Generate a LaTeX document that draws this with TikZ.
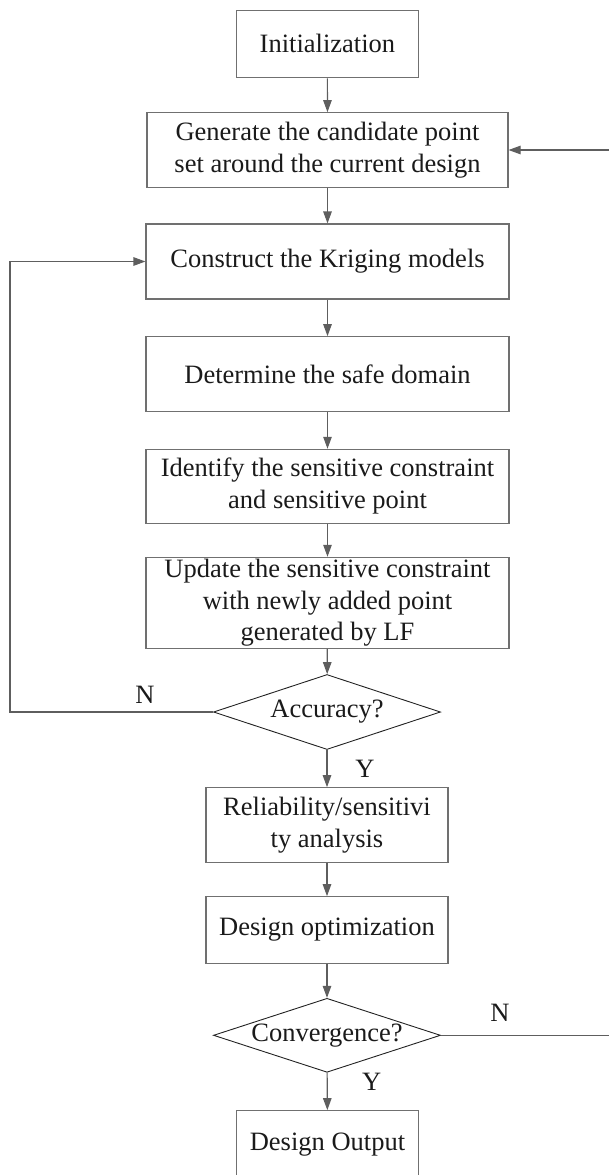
\documentclass[tikz,border=0pt]{standalone}
\usepackage{fontspec}
\setmainfont{Liberation Serif}
\usetikzlibrary{shapes.geometric,arrows.meta}
\definecolor{boxline}{HTML}{707070}
\definecolor{arrline}{HTML}{5E5E5E}
\definecolor{dialine}{HTML}{222222}
\definecolor{txt}{HTML}{1A1A1A}
\tikzset{
  x=1pt,y=1pt,
  every node/.style={font=\fontsize{26.5}{31.7}\selectfont, text=txt},
  procbox/.style={draw=boxline, line width=1.1pt, rectangle, inner sep=0pt, align=center},
  decbox/.style={draw=dialine, line width=0.9pt, diamond, aspect=3.07, inner sep=0pt},
  flow/.style={draw=arrline, line width=1.1pt, -{Triangle[length=12pt,width=8.5pt]}},
  plainflow/.style={draw=arrline, line width=1.1pt},
  lbl/.style={inner sep=0pt}
}
\begin{document}
\begin{tikzpicture}
\useasboundingbox (0,0) rectangle (608,-1175);
\node[procbox, minimum width=181.3pt, minimum height=67.7pt] (init) at (327.4,-43.9) {Initialization};
\node[procbox, minimum width=361pt, minimum height=74.6pt] (gen) at (327.5,-150) {Generate the candidate point\\set around the current design};
\node[procbox, minimum width=363pt, minimum height=75pt] (cons) at (327.5,-261.5) {Construct the Kriging models};
\node[procbox, minimum width=363pt, minimum height=75pt] (det) at (327.5,-374.2) {Determine the safe domain};
\node[procbox, minimum width=363pt, minimum height=74pt] (ident) at (327.5,-486.3) {Identify the sensitive constraint\\and sensitive point};
\node[procbox, minimum width=363pt, minimum height=91pt] (upd) at (327.5,-602.8) {Update the sensitive constraint\\with newly added point\\generated by LF};
\node[decbox, minimum width=227pt, minimum height=75pt] (acc) at (327,-712) {Accuracy?};
\node[procbox, minimum width=242pt, minimum height=74.6pt] (rel) at (327,-825) {Reliability/sensitivi\\ty analysis};
\node[procbox, minimum width=242pt, minimum height=66.6pt] (opt) at (327,-930) {Design optimization};
\node[decbox, minimum width=227pt, minimum height=74pt] (conv) at (327,-1035.3) {Convergence?};
\node[procbox, minimum width=181.6pt, minimum height=67.3pt] (out) at (327.5,-1144.3) {Design Output};

\draw[flow] (init) -- (gen);
\draw[flow] (gen) -- (cons);
\draw[flow] (cons) -- (det);
\draw[flow] (det) -- (ident);
\draw[flow] (ident) -- (upd);
\draw[flow] (upd) -- (acc);
\draw[flow] (acc) -- (rel);
\draw[flow] (rel) -- (opt);
\draw[flow] (opt) -- (conv);
\draw[flow] (conv) -- (out);

\coordinate (l1) at (10,-712);
\coordinate (r1) at (616,-1035.3);
\coordinate (r2) at (616,-150);
\draw[flow] (acc.west) -- (l1) |- (cons.west);
\draw[flow] (conv.east) -- (r1) -- (r2) -- (gen.east);

\node[lbl] (nacc) at (145,-695) {N};
\node[lbl] (yacc) at (365,-769) {Y};
\node[lbl] (nconv) at (500,-1013) {N};
\node[lbl] (yconv) at (371.7,-1081.7) {Y};
\end{tikzpicture}
\end{document}
